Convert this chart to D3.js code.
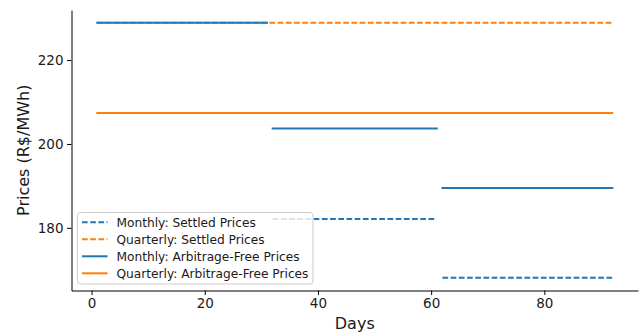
<!DOCTYPE html>
<html>
<head>
<meta charset="utf-8">
<script src="https://cdn.jsdelivr.net/npm/d3@7"></script>
<style>
  html, body { margin: 0; padding: 0; background: #fff; }
  svg { display: block; font-family: "DejaVu Sans", sans-serif; }
</style>
</head>
<body>
<svg id="chart" width="641" height="333"></svg>
<script>
// Contract delivery windows (days)
const monthStart = [1, 32, 62];
const monthEnd = [31, 61, 92];
const quarterStart = [1];
const quarterEnd = [92];

// Prices (R$/MWh)
const monthlySettled = [207.4, 182.1, 168.1];
const quarterlySettled = [228.9];
const monthlyArbFree = [228.9, 203.7, 189.5];
const quarterlyArbFree = [207.4];

const xTicks = [0, 20, 40, 60, 80];
const yTicks = [180, 200, 220];

const seriesNames = [
  "Monthly: Settled Prices",
  "Quarterly: Settled Prices",
  "Monthly: Arbitrage-Free Prices",
  "Quarterly: Arbitrage-Free Prices"
];

const blue = "#1f77b4", orange = "#ff7f0e";

const svg = d3.select("#chart");
const plotLeft = 71.5, plotRight = 638, plotTop = 10, plotBottom = 290.5;

// padded limits: 5% of the data span on each side
const xMin = 1, xMax = 92;
const xPad = (xMax - xMin) * 0.05;
const allY = monthlySettled.concat(quarterlySettled, monthlyArbFree, quarterlyArbFree);
const yLo = d3.min(allY), yHi = d3.max(allY);
const yPad = (yHi - yLo) * 0.05;

const x = d3.scaleLinear().domain([xMin - xPad, xMax + xPad]).range([plotLeft, plotRight]);
const y = d3.scaleLinear().domain([yLo - yPad, yHi + yPad]).range([plotBottom, plotTop]);

function segments(starts, ends, values) {
  return values.map((v, i) => ({ x0: starts[i], x1: ends[i], v }));
}

const layers = [
  { data: segments(monthStart, monthEnd, monthlySettled), color: blue, dash: "5.7,2.5" },
  { data: segments(quarterStart, quarterEnd, quarterlySettled), color: orange, dash: "5.7,2.5" },
  { data: segments(monthStart, monthEnd, monthlyArbFree), color: blue, dash: null },
  { data: segments(quarterStart, quarterEnd, quarterlyArbFree), color: orange, dash: null }
];

const plot = svg.append("g");
layers.forEach(layer => {
  plot.selectAll(null)
    .data(layer.data)
    .enter().append("line")
    .attr("x1", d => x(d.x0))
    .attr("x2", d => x(d.x1))
    .attr("y1", d => y(d.v))
    .attr("y2", d => y(d.v))
    .attr("stroke", layer.color)
    .attr("stroke-width", 2)
    .attr("stroke-linecap", layer.dash ? "butt" : "square")
    .attr("stroke-dasharray", layer.dash);
});

// axes
const xAxis = svg.append("g")
  .attr("transform", `translate(0,${plotBottom})`)
  .call(d3.axisBottom(x).tickValues(xTicks).tickSize(4.5).tickPadding(3.5).tickSizeOuter(0));
const yAxis = svg.append("g")
  .attr("transform", `translate(${plotLeft},0)`)
  .call(d3.axisLeft(y).tickValues(yTicks).tickSize(4.5).tickPadding(3.5).tickSizeOuter(0));

[xAxis, yAxis].forEach(g => {
  g.select(".domain").attr("stroke", "#000").attr("stroke-width", 1);
  g.selectAll(".tick line").attr("stroke", "#000").attr("stroke-width", 1);
  g.selectAll(".tick text").attr("fill", "#1a1a1a").style("font-size", "13.5px")
    .style("font-family", "DejaVu Sans, sans-serif");
});

svg.append("text")
  .attr("x", (plotLeft + plotRight) / 2)
  .attr("y", 328.5)
  .attr("text-anchor", "middle")
  .attr("fill", "#1a1a1a")
  .style("font-size", "16px")
  .text("Days");

svg.append("text")
  .attr("transform", `translate(28.5,${(plotTop + plotBottom) / 2}) rotate(-90)`)
  .attr("text-anchor", "middle")
  .attr("fill", "#1a1a1a")
  .style("font-size", "16px")
  .text("Prices (R$/MWh)");

// legend
const legend = svg.append("g");
legend.append("rect")
  .attr("x", 77.5).attr("y", 212.5)
  .attr("width", 235.5).attr("height", 71.5)
  .attr("rx", 3).attr("ry", 3)
  .attr("fill", "#fff").attr("fill-opacity", 0.8)
  .attr("stroke", "#ccc").attr("stroke-width", 1);

const legendItems = seriesNames.map((name, i) => ({ name, color: layers[i].color, dash: layers[i].dash }));
const rows = legend.selectAll("g.row")
  .data(legendItems)
  .enter().append("g")
  .attr("transform", (d, i) => `translate(0,${222.3 + i * 17})`);
rows.append("line")
  .attr("x1", 82).attr("x2", 107.5)
  .attr("y1", 0).attr("y2", 0)
  .attr("stroke", d => d.color)
  .attr("stroke-width", 2)
  .attr("stroke-dasharray", d => d.dash);
rows.append("text")
  .attr("x", 116.5)
  .attr("y", 4.4)
  .attr("fill", "#1a1a1a")
  .style("font-size", "12.2px")
  .text(d => d.name);
</script>
</body>
</html>
